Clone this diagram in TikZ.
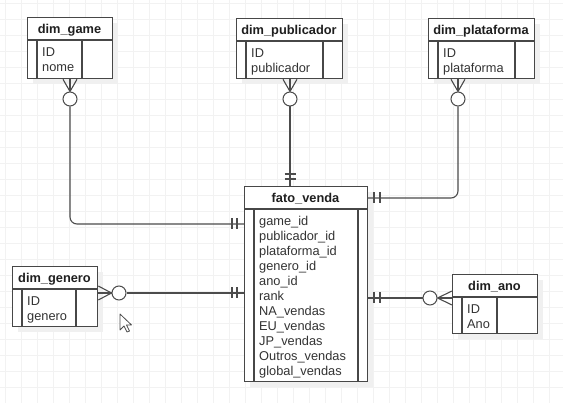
\documentclass[tikz,border=0pt]{standalone}
\usepackage{fontspec}
\setmainfont{Liberation Sans}
\usetikzlibrary{calc}

\tikzset{
  gridline/.style={draw=black!5, line width=0.5pt},
  tab/.style={draw=black!72, line width=1.3pt, fill=white, inner sep=0pt, anchor=north west},
  sep/.style={draw=black!72, line width=1.1pt},
  rel/.style={draw=black!70, line width=1.1pt},
  nil/.style={circle, draw=black!70, line width=1pt, fill=white, minimum size=14pt, inner sep=0pt},
  ttl/.style={font=\fontsize{12.8}{15}\selectfont\bfseries, anchor=base, inner sep=0pt, text=black!88},
  row/.style={font=\fontsize{12.8}{15}\selectfont, anchor=base west, inner sep=0pt, text=black!80},
}

\newcommand{\ertab}[8]{
  \fill[black!6] (#2+6,#3+6) rectangle ++(#4,#5);
  \node[tab, minimum width=#4, minimum height=#5] (#1) at (#2,#3) {};
  \draw[sep] (#2,#3+23) -- ++(#4,0);
  \draw[sep] (#2+10,#3+23) -- (#2+10,#3+#5);
  \draw[sep] (#2+#6,#3+23) -- (#2+#6,#3+#5);
  \node[ttl] (#1-t) at (#2+#4/2,#3+16.5) {#7};
  \foreach \r [count=\i] in {#8}
    \node[row] (#1-\i) at (#2+15,#3+25+15*\i) {\r};
}

\begin{document}
\begin{tikzpicture}[x=1pt,y=-1pt]
 \useasboundingbox (0,0) rectangle (563,403);
 \fill[white] (0,0) rectangle (563,403);
 \foreach \gx in {5,21,...,563} \draw[gridline] (\gx,0) -- (\gx,403);
 \foreach \gy in {3,19,...,403} \draw[gridline] (0,\gy) -- (563,\gy);

 \ertab{game}{27}{17}{85}{61}{55}{dim\_game}{ID,nome}
 \ertab{publicador}{236}{18}{106}{60}{87}{dim\_publicador}{ID,publicador}
 \ertab{plataforma}{428}{18}{106}{60}{87}{dim\_plataforma}{ID,plataforma}
 \ertab{genero}{12}{266}{85}{60}{64}{dim\_genero}{ID,genero}
 \ertab{ano}{452}{274}{85}{59}{45}{dim\_ano}{ID,Ano}
 \ertab{fato}{244}{186}{123}{195}{114}{fato\_venda}{game\_id,publicador\_id,plataforma\_id,genero\_id,ano\_id,rank,NA\_vendas,EU\_vendas,JP\_vendas,Outros\_vendas,global\_vendas}

 \node[nil] (cg) at (70,99) {};
 \node[nil] (cp) at (290,99) {};
 \node[nil] (cf) at (458,99) {};
 \node[nil] (cn) at (119,293) {};
 \node[nil] (ca) at (430,298) {};
 \coordinate (fg) at (244,224);
 \coordinate (fp) at (290,186);
 \coordinate (ff) at (367,198);
 \coordinate (fn) at (244,293);
 \coordinate (fa) at (367,298);

 \draw[rel, rounded corners=7pt] (cg.south) |- (fg);
 \draw[rel] (cp.south) -- (fp);
 \draw[rel, rounded corners=7pt] (cf.south) |- (ff);
 \draw[rel] (cn.east) -- (fn);
 \draw[rel] (ca.west) -- (fa);

 \foreach \d in {-7,0,7} {
  \draw[rel] ($(game.south -| cg)+(\d,0)$) -- (cg.north);
  \draw[rel] ($(publicador.south -| cp)+(\d,0)$) -- (cp.north);
  \draw[rel] ($(plataforma.south -| cf)+(\d,0)$) -- (cf.north);
  \draw[rel] ($(genero.east |- cn)+(0,\d)$) -- (cn.west);
  \draw[rel] ($(ano.west |- ca)+(0,\d)$) -- (ca.east);
 }
 \foreach \d in {7,12} {
  \draw[rel] ($(fg)+(-\d,-5.5)$) -- ++(0,11);
  \draw[rel] ($(fn)+(-\d,-5.5)$) -- ++(0,11);
  \draw[rel] ($(fp)+(-5.5,-\d)$) -- ++(11,0);
 }
 \foreach \d in {7,13} {
  \draw[rel] ($(ff)+(\d,-5.5)$) -- ++(0,11);
  \draw[rel] ($(fa)+(\d,-5.5)$) -- ++(0,11);
 }

 \draw[black!70, line width=0.8pt, fill=white, line join=round]
  (120,314) -- (120,330) -- (124,326) -- (127,332) -- (129.5,331) -- (126.5,325) -- (131.5,325) -- cycle;
\end{tikzpicture}
\end{document}
